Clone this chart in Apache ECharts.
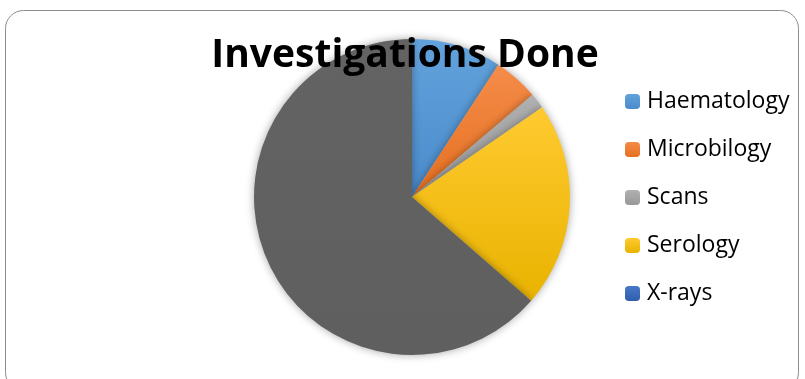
<!DOCTYPE html>
<html><head><meta charset="utf-8">
<script src="https://cdn.jsdelivr.net/npm/echarts@6/dist/echarts.min.js"></script>
<style>html,body{margin:0;padding:0;background:#fff}#c{width:805px;height:379px}</style>
</head><body><div id="c"></div>
<script>
const categories = ['Haematology', 'Microbilogy', 'Scans', 'Serology', 'X-rays', 'Other'];
const values = [9.2, 4.6, 1.6, 21.0, 0, 63.6];
const legendItems = ['Haematology', 'Microbilogy', 'Scans', 'Serology', 'X-rays'];
const topColors = ['#62a2dc', '#f58c4a', '#b0b0b0', '#ffca30', '#4a78c8', '#636363'];
const bottomColors = ['#4a8bcb', '#e5701f', '#999999', '#e9b300', '#2f5ead', '#5f5f5f'];

function grad(i){
  return new echarts.graphic.LinearGradient(0,0,0,1,[{offset:0,color:topColors[i]},{offset:1,color:bottomColors[i]}]);
}
const chart = echarts.init(document.getElementById('c'));
chart.setOption({
  animation:false,
  graphic:[{type:'rect',shape:{x:5.5,y:10.5,width:793,height:380,r:18},style:{fill:'none',stroke:'#8c8c8c',lineWidth:1},z:-1}],
  title:{text:'Investigations Done',left:405,top:36,textAlign:'center',padding:0,
    textStyle:{fontFamily:'Open Sans',fontWeight:'bold',fontSize:39,color:'#000'}},
  legend:{orient:'vertical',left:625,top:90,padding:0,itemWidth:15,itemHeight:15,itemGap:25,
    data:legendItems,selectedMode:false,
    textStyle:{fontFamily:'Open Sans',fontSize:23,color:'#000',padding:[0,0,0,2]}},
  series:[{type:'pie',center:[412,197],radius:158,startAngle:90,clockwise:true,
    label:{show:false},labelLine:{show:false},emphasis:{disabled:true},silent:true,
    data:categories.map((n,i)=>({name:n,value:values[i],
      itemStyle:{color:grad(i),shadowBlur:8,shadowColor:'rgba(0,0,0,0.35)'}}))}]
});
</script></body></html>
